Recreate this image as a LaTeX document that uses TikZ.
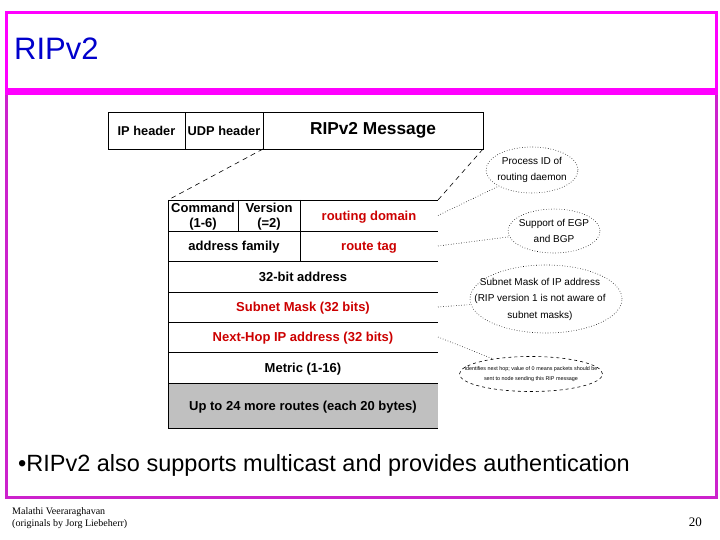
\documentclass[tikz,border=0pt]{standalone}
\usepackage{fontspec}
\setmainfont{Liberation Sans}
\newfontfamily\serifft{Liberation Serif}
\usetikzlibrary{shapes.geometric}
\definecolor{mag}{RGB}{255,0,255}
\definecolor{magd}{RGB}{204,34,204}
\definecolor{ttl}{RGB}{0,0,204}
\definecolor{redtxt}{RGB}{204,0,0}
\definecolor{grayfill}{RGB}{192,192,192}
\begin{document}
\begin{tikzpicture}[x=1pt,y=-1pt,
 hcell/.style={draw=black, line width=0.8pt, inner sep=0pt, outer sep=0pt, anchor=north west, font=\fontsize{12.8}{14}\selectfont\bfseries},
 tcell/.style={inner sep=0pt, outer sep=0pt, anchor=north west, align=center, text depth=0pt, font=\fontsize{13}{15.5}\selectfont\bfseries},
 note/.style={ellipse, draw=black, dotted, line width=0.6pt, inner sep=0pt, outer sep=0pt},
 notetext/.style={align=center, inner sep=0pt, font=\fontsize{10}{16.5}\selectfont},
 link/.style={dotted, line width=0.6pt},
 expand/.style={line width=0.6pt, dash pattern=on 5pt off 4pt},
 gridline/.style={line width=0.8pt}]

\useasboundingbox (0,0) rectangle (720,540);

% frames
\draw[mag, line width=3pt] (6,13) rectangle (716,91);
\draw[magd, line width=3pt] (6,93) rectangle (716,497);
\fill[mag] (4.5,88) rectangle (717.5,95);

% title
\node[anchor=base west, text=ttl, inner sep=0pt, font=\fontsize{31}{32}\selectfont] (title) at (14,60) {RIPv2};

% packet header
\node[hcell, minimum width=77pt, minimum height=37pt] (ip) at (108,112) {IP header};
\node[hcell, minimum width=78pt, minimum height=37pt] (udp) at (185,112) {UDP header};
\node[hcell, minimum width=220pt, minimum height=37pt, font=\fontsize{17.3}{18}\selectfont\bfseries] (msg) at (263,112) {RIPv2 Message};

% table
\node[tcell, minimum width=270pt, minimum height=45pt, fill=grayfill] (more) at (168,383) {Up to 24 more routes (each 20 bytes)};
\node[tcell, minimum width=70pt, minimum height=31pt] (cmd) at (168,200) {Command\\(1-6)};
\node[tcell, minimum width=62pt, minimum height=31pt] (ver) at (238,200) {Version\\(=2)};
\node[tcell, minimum width=138pt, minimum height=31pt, text=redtxt] (rdom) at (300,200) {routing domain};
\node[tcell, minimum width=132pt, minimum height=30pt] (af) at (168,231) {address family};
\node[tcell, minimum width=138pt, minimum height=30pt, text=redtxt] (rtag) at (300,231) {route tag};
\node[tcell, minimum width=270pt, minimum height=31pt] (addr) at (168,261) {32-bit address};
\node[tcell, minimum width=270pt, minimum height=30pt, text=redtxt] (mask) at (168,292) {Subnet Mask (32 bits)};
\node[tcell, minimum width=270pt, minimum height=30pt, text=redtxt] (nh) at (168,322) {Next-Hop IP address (32 bits)};
\node[tcell, minimum width=270pt, minimum height=31pt] (met) at (168,352) {Metric (1-16)};

% grid lines
\draw[gridline] (cmd.north west) -- (rdom.north east);
\draw[gridline] (af.north west) -- (rtag.north east);
\draw[gridline] (addr.north west) -- (addr.north east);
\draw[gridline] (mask.north west) -- (mask.north east);
\draw[gridline] (nh.north west) -- (nh.north east);
\draw[gridline] (met.north west) -- (met.north east);
\draw[gridline] (more.north west) -- (more.north east);
\draw[gridline] (more.south west) -- (more.south east);
\draw[gridline] (cmd.north west) -- (more.south west);
\draw[gridline] (cmd.north east) -- (cmd.south east);
\draw[gridline] (ver.north east) -- (af.south east);

% expansion lines
\draw[expand] (udp.south east) -- (cmd.north west);
\draw[expand] (msg.south east) -- (rdom.north east);

% notes
\node[note, minimum width=92pt, minimum height=46pt] (e1) at (532,170) {};
\node[notetext] (t1) at (e1.center) {Process ID of\\routing daemon};
\node[note, minimum width=92pt, minimum height=44pt] (e2) at (554,231) {};
\node[notetext] (t2) at (e2.center) {Support of EGP\\and BGP};
\node[note, minimum width=152pt, minimum height=68pt] (e3) at (546,299) {};
\node[notetext] (t3) at ([xshift=-6pt]e3.center) {Subnet Mask of IP address\\(RIP version 1 is not aware of\\subnet masks)};
\node[note, dash pattern=on 3pt off 3pt, minimum width=143pt, minimum height=35pt] (e4) at (531,374) {};
\node[notetext, font=\fontsize{5.4}{10}\selectfont] (t4) at (e4.center) {Identifies next hop; value of 0 means packets should be\\sent to node sending this RIP message};

% links
\draw[link] (rdom.east) -- (e1);
\draw[link] (rtag.east) -- (e2);
\draw[link] (mask.east) -- (e3);
\draw[link] (nh.east) -- (e4);

% bullet
\node[anchor=base west, inner sep=0pt, font=\fontsize{23.5}{24}\selectfont] (bul) at (18,471) {•RIPv2 also supports multicast and provides authentication};

% footer
\node[anchor=north west, inner sep=0pt, align=left, font=\serifft\fontsize{10}{12}\selectfont] (foot) at (12,507) {Malathi Veeraraghavan\\(originals by Jorg Liebeherr)};
\node[anchor=base east, inner sep=0pt, font=\serifft\fontsize{13}{13}\selectfont] (pg) at (702,526) {20};
\end{tikzpicture}
\end{document}
